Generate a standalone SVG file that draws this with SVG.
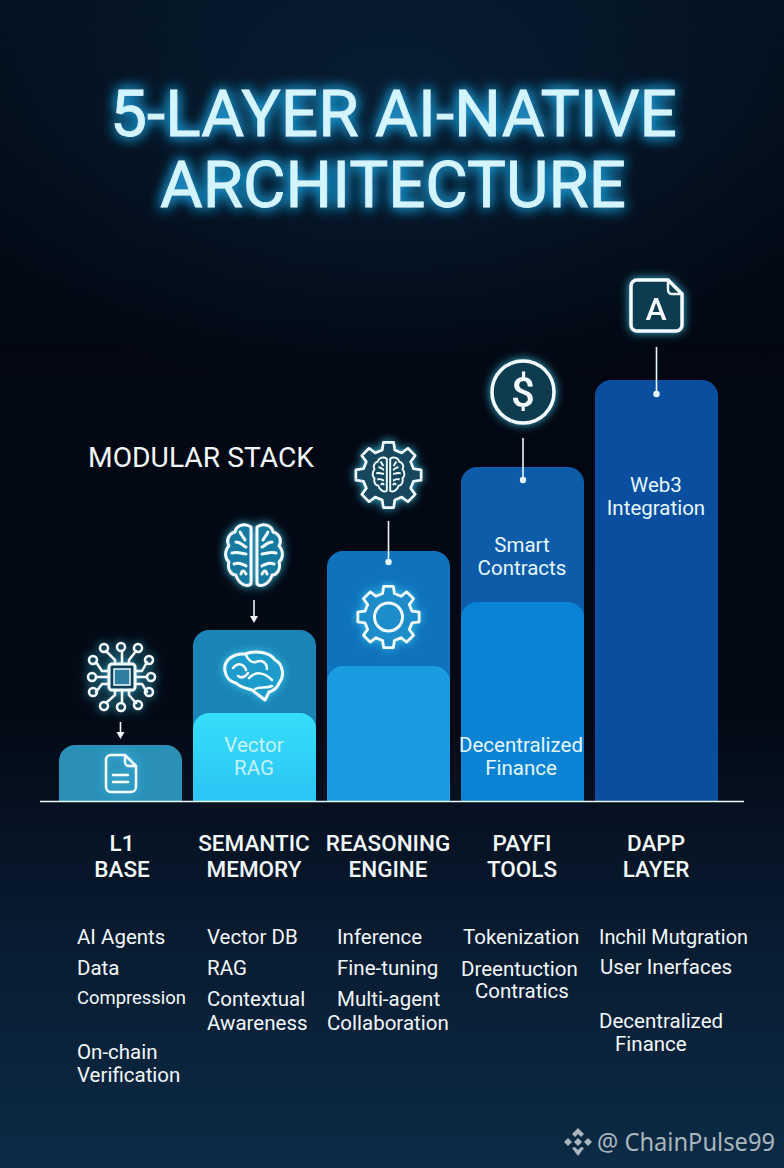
<svg xmlns="http://www.w3.org/2000/svg" xmlns:xlink="http://www.w3.org/1999/xlink" width="784" height="1168" viewBox="0 0 784 1168">
<style>
text{font-family:Roboto,"Liberation Sans",sans-serif;fill:#f2f7fa}
.title{font-size:65px;font-weight:400;fill:#d2f5ff;stroke:#d2f5ff;stroke-width:.8px;text-anchor:middle}
.head{font-size:22.500px;font-weight:500;text-anchor:middle}
.li{font-size:20.500px}
.bt{font-size:20.500px;text-anchor:middle;fill:#e4f7fd}
.ic{fill:none;stroke:#f2fcff;stroke-width:3;stroke-linejoin:round;stroke-linecap:round}
.ict{fill:#17799f;stroke:#f2fcff;stroke-width:3;stroke-linejoin:round;stroke-linecap:round}
.thin{fill:none;stroke:#f2fcff;stroke-width:2.500;stroke-linecap:round;stroke-linejoin:round}
.conn{stroke:#e8f8fc;stroke-width:1.600;fill:none}
</style>
<defs>
<linearGradient id="bg" x1="0" y1="0" x2="0" y2="1">
<stop offset="0" stop-color="#03101e"/><stop offset=".3" stop-color="#020712"/><stop offset=".62" stop-color="#030a16"/><stop offset=".8" stop-color="#081b30"/><stop offset="1" stop-color="#0c2b46"/>
</linearGradient>
<radialGradient id="topGlow" cx=".5" cy=".2" r=".6"><stop offset="0" stop-color="#0c2a44" stop-opacity=".55"/><stop offset="1" stop-color="#0c2a44" stop-opacity="0"/></radialGradient>
<linearGradient id="cyan" x1="0" y1="0" x2="0" y2="1"><stop offset="0" stop-color="#35def9"/><stop offset="1" stop-color="#2cc4f4"/></linearGradient>
<filter id="glow" x="-50%" y="-50%" width="200%" height="200%"><feGaussianBlur in="SourceGraphic" stdDeviation="5" result="b"/><feFlood flood-color="#38c8ee" flood-opacity=".9"/><feComposite in2="b" operator="in" result="c"/><feMerge><feMergeNode in="c"/><feMergeNode in="SourceGraphic"/></feMerge></filter>
<filter id="tglow" x="-15%" y="-40%" width="130%" height="180%"><feGaussianBlur in="SourceGraphic" stdDeviation="7" result="b"/><feFlood flood-color="#1fa6e6" flood-opacity=".95"/><feComposite in2="b" operator="in" result="c"/><feMerge><feMergeNode in="c"/><feMergeNode in="c"/><feMergeNode in="SourceGraphic"/></feMerge></filter>
<path id="gear" d="M-18.900-75.700L-15.600-98.800L15.600-98.800L18.900-75.700L40.200-66.900L58.800-80.900L80.900-58.800L66.900-40.200L75.700-18.900L98.800-15.600L98.800 15.600L75.700 18.900L66.900 40.200L80.900 58.800L58.800 80.900L40.200 66.900L18.900 75.700L15.600 98.800L-15.600 98.800L-18.900 75.700L-40.200 66.900L-58.800 80.900L-80.900 58.800L-66.900 40.200L-75.700 18.900L-98.800 15.600L-98.800-15.600L-75.700-18.900L-66.900-40.200L-80.900-58.800L-58.800-80.900L-40.200-66.900Z"/>
<g id="lobe"><path d="M-3-29C-10-34-18-30-19-24C-26-22-28-15-25-10C-30-5-29 3-25 6C-27 13-23 19-18 19C-16 27-8 32-3 28Z"/><path d="M-18-14C-13-14-11-10-8-9M-22-3C-16-5-12-2-8-2M-20 8C-15 6-12 8-8 10M-14-24C-12-20-10-18-9-16M-13 18C-12 14-10 14-8 18"/></g>
</defs>
<rect width="784" height="1168" fill="url(#bg)"/>
<rect width="784" height="500" fill="url(#topGlow)"/>

<g id="title" filter="url(#tglow)">
<text class="title" x="393.500" y="136" textLength="567" lengthAdjust="spacingAndGlyphs">5-LAYER AI-NATIVE</text>
<text class="title" x="393" y="207" textLength="466" lengthAdjust="spacingAndGlyphs">ARCHITECTURE</text>
</g>
<text id="modular" x="88" y="467" font-size="27" textLength="226" lengthAdjust="spacingAndGlyphs">MODULAR STACK</text>

<g id="layer-l1">
<path d="M59 801V761a16 16 0 0 1 16-16h91a16 16 0 0 1 16 16v40z" fill="#2b90b8"/>
<g filter="url(#glow)"><path class="thin" d="M111 755H125L136 766V787a5 5 0 0 1-5 5H111a5 5 0 0 1-5-5V760a5 5 0 0 1 5-5ZM125 755V762a4 4 0 0 0 4 4H136"/><path class="thin" d="M113 775H128M113 782H128"/></g>
<g id="icon-chip" filter="url(#glow)"><rect x="109" y="664" width="26" height="26" rx="3" fill="#0d3f58" stroke="#f2fcff" stroke-width="3"/><rect x="114" y="669" width="16" height="16" fill="#2f7ea0" stroke="#f2fcff" stroke-width="1.500"/>
<path class="thin" d="M122 664V652M115 664V660L106 651M129 664V660L136 651M109 671H102L96 662M135 671H142L147 662M109 677H96M135 677H147M109 684H102L96 692M135 684H142L147 692M115 690V695L106 703M129 690V695L136 703M122 690V703"/>
<g class="thin" fill="#0b1a26"><circle cx="121" cy="647" r="4"/><circle cx="104" cy="648" r="4"/><circle cx="138" cy="648" r="4"/><circle cx="93" cy="660" r="4"/><circle cx="149" cy="660" r="4"/><circle cx="92" cy="677" r="4"/><circle cx="151" cy="677" r="4"/><circle cx="93" cy="692" r="4"/><circle cx="149" cy="692" r="4"/><circle cx="104" cy="706" r="4"/><circle cx="138" cy="705" r="4"/><circle cx="121" cy="707" r="4"/></g></g>
</g>

<g id="layer-semantic">
<path d="M193 801V646a16 16 0 0 1 16-16h91a16 16 0 0 1 16 16v155z" fill="#1a84b4"/>
<path d="M193 801V729a16 16 0 0 1 16-16h91a16 16 0 0 1 16 16v72z" fill="url(#cyan)"/>
<g filter="url(#glow)"><path class="ic" style="fill:#1f9ccb" d="M225 671C223 660 234 653 245 654C255 650 270 652 275 660C283 664 285 676 279 683C277 689 272 691 269 692L265 700L252 690C244 688 238 685 236 683C230 682 226 677 225 671Z"/><path class="thin" d="M233 668C238 662 244 664 246 670M246 655C248 660 252 663 256 662C262 659 267 663 267 669M249 678C256 671 264 672 272 680M272 686C265 689 260 686 255 689M238 676C242 679 245 677 248 673"/></g>
<g id="icon-brain" filter="url(#glow)" transform="translate(254 556)"><g class="ict"><use xlink:href="#lobe" href="#lobe"/><use xlink:href="#lobe" href="#lobe" transform="scale(-1 1)"/></g></g>
<text class="bt" x="254" y="752" style="fill:#c4f2fb">Vector</text><text class="bt" x="254" y="775" style="fill:#c4f2fb">RAG</text>
</g>

<g id="layer-reasoning">
<path d="M327 801V567a16 16 0 0 1 16-16h91a16 16 0 0 1 16 16v234z" fill="#0f72bc"/>
<path d="M327 801V682a16 16 0 0 1 16-16h91a16 16 0 0 1 16 16v119z" fill="#1a9ce2"/>
<g filter="url(#glow)"><use xlink:href="#gear" href="#gear" transform="translate(388.500 617) scale(.31)" fill="#1a8ccb" stroke="#f2fcff" stroke-width="9" stroke-linejoin="round"/><circle cx="388.500" cy="617" r="14" class="ic" style="fill:#1a8ccb"/></g>
<g id="icon-gear-brain" filter="url(#glow)"><use xlink:href="#gear" href="#gear" transform="translate(388.500 475) scale(.33)" fill="#12475f" stroke="#f2fcff" stroke-width="8" stroke-linejoin="round"/>
<g transform="translate(388.500 475) scale(.56)" fill="none" stroke="#f2fcff" stroke-width="3.500" stroke-linejoin="round"><use xlink:href="#lobe" href="#lobe"/><use xlink:href="#lobe" href="#lobe" transform="scale(-1 1)"/></g></g>
</g>

<g id="layer-payfi">
<path d="M461 801V483a16 16 0 0 1 16-16h91a16 16 0 0 1 16 16v318z" fill="#0e5ca9"/>
<path d="M461 801V618a16 16 0 0 1 16-16h91a16 16 0 0 1 16 16v183z" fill="#0b83d5"/>
<g id="icon-dollar" filter="url(#glow)"><circle cx="523" cy="392" r="31" fill="#0f3a50" stroke="#f2fcff" stroke-width="3.500"/><text x="523" y="407" font-size="42" font-weight="500" text-anchor="middle" style="fill:#f2fcff">$</text></g>
<text class="bt" x="522" y="552">Smart</text><text class="bt" x="522" y="575">Contracts</text>
<text class="bt" x="521" y="752">Decentralized</text><text class="bt" x="521" y="775">Finance</text>
</g>

<g id="layer-dapp">
<path d="M595 801V396a16 16 0 0 1 16-16h91a16 16 0 0 1 16 16v405z" fill="#0a4f9f"/>
<g id="icon-doc" filter="url(#glow)"><path style="fill:#0f3a50;stroke:#f2fcff;stroke-width:3.500;stroke-linejoin:round" d="M637 280H668L682 294V325a6 6 0 0 1-6 6H637a6 6 0 0 1-6-6V286a6 6 0 0 1 6-6Z"/><path class="thin" d="M668 280V290a4 4 0 0 0 4 4H682"/><text x="656" y="320" font-size="32" font-weight="500" text-anchor="middle" style="fill:#f2fcff">A</text></g>
<text class="bt" x="656" y="492">Web3</text><text class="bt" x="656" y="515">Integration</text>
</g>

<g id="connectors">
<path class="conn" d="M40 801.500H744"/>
<path class="conn" d="M120.500 722V733"/><path d="M116.500 732H124.500L120.500 739Z" fill="#f2fcff"/>
<path class="conn" d="M254 600V617"/><path d="M250 616H258L254 623Z" fill="#f2fcff"/>
<path class="conn" d="M388.500 521V562"/><circle cx="388.500" cy="562" r="3.200" fill="#e8f8fc"/>
<path class="conn" d="M523 438V480"/><circle cx="523" cy="480" r="3.200" fill="#e8f8fc"/>
<path class="conn" d="M656.500 347V394"/><circle cx="656.500" cy="394" r="3.200" fill="#e8f8fc"/>
</g>

<g id="headings">
<text class="head" x="122" y="851">L1</text><text class="head" x="122" y="877">BASE</text>
<text class="head" x="254" y="851">SEMANTIC</text><text class="head" x="254" y="877">MEMORY</text>
<text class="head" x="388" y="851">REASONING</text><text class="head" x="388" y="877">ENGINE</text>
<text class="head" x="522" y="851">PAYFI</text><text class="head" x="522" y="877">TOOLS</text>
<text class="head" x="656" y="851">DAPP</text><text class="head" x="656" y="877">LAYER</text>
</g>

<g id="lists">
<text class="li" x="77" y="944">AI Agents</text><text class="li" x="77" y="975">Data</text>
<text class="li" x="77" y="1004" style="font-size:19px" textLength="109" lengthAdjust="spacingAndGlyphs">Compression</text>
<text class="li" x="77" y="1059">On-chain</text><text class="li" x="77" y="1082">Verification</text>
<text class="li" x="207" y="944">Vector DB</text><text class="li" x="207" y="975">RAG</text><text class="li" x="207" y="1006">Contextual</text><text class="li" x="207" y="1030">Awareness</text>
<text class="li" x="337" y="944">Inference</text><text class="li" x="337" y="975">Fine-tuning</text><text class="li" x="337" y="1006">Multi-agent</text><text class="li" x="327" y="1030">Collaboration</text>
<text class="li" x="463" y="944">Tokenization</text><text class="li" x="461" y="976">Dreentuction</text><text class="li" x="475" y="998">Contratics</text>
<text class="li" x="599" y="944" textLength="149" lengthAdjust="spacingAndGlyphs">Inchil Mutgration</text><text class="li" x="600" y="974">User Inerfaces</text><text class="li" x="599" y="1028">Decentralized</text><text class="li" x="615" y="1051">Finance</text>
</g>

<g id="watermark">
<path fill="#a9b6be" d="M578 1128L584 1134L581 1137L578 1134L575 1137L572 1134ZM564 1142L568 1138L572 1142L568 1146ZM588 1138L592 1142L588 1146L584 1142ZM578 1138L582 1142L578 1146L574 1142ZM572 1148L575 1147L578 1150L581 1147L584 1148L578 1156Z"/>
<text x="597" y="1151" font-size="25" style="fill:#a9b6be;font-family:'Noto Sans','Open Sans',sans-serif" textLength="178" lengthAdjust="spacingAndGlyphs">@ ChainPulse99</text>
</g>
</svg>
